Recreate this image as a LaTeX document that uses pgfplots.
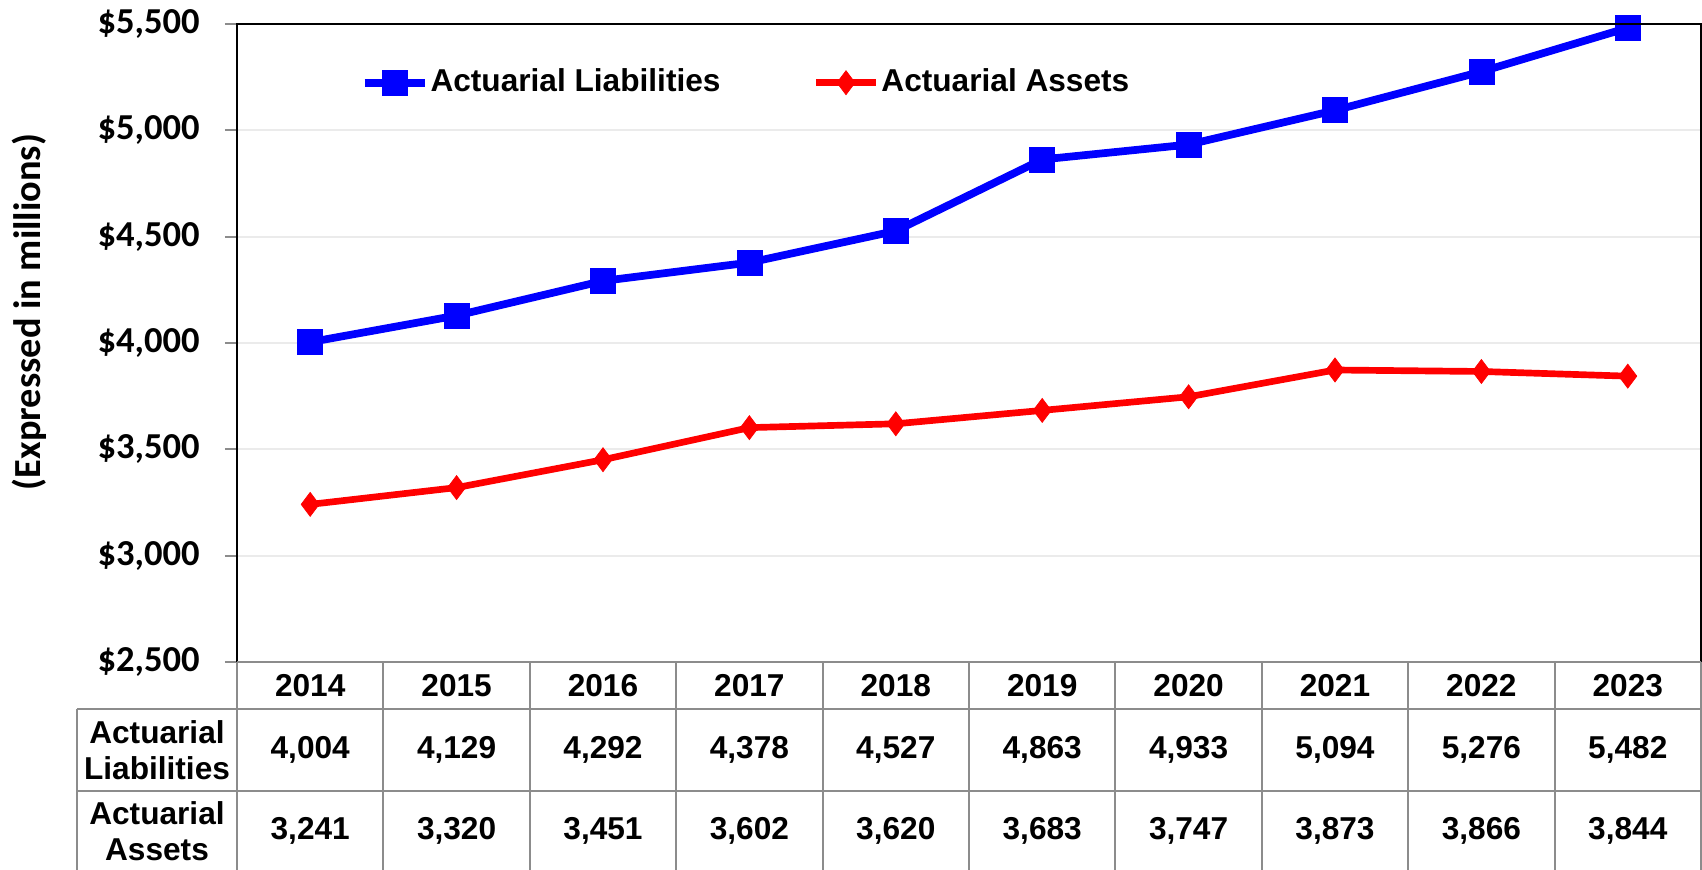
\documentclass[border=0pt]{standalone}
\usepackage{pgfplots}
\pgfplotsset{compat=1.18}
\usepackage{pgfplotstable}
\usepackage{fontspec}
\setmainfont{Liberation Sans}
\newfontfamily\calibri{Carlito}

\definecolor{tabline}{RGB}{140,140,140}
\definecolor{gridgray}{RGB}{235,235,235}

\newcommand\tabfont{\fontsize{9}{10.4}\selectfont\bfseries}

\pgfkeys{/pgf/number format/.cd, fixed, precision=0, 1000 sep={,}, assume math mode=true}

\pgfplotstableread{
x year liab assets
0 2014 4004 3241
1 2015 4129 3320
2 2016 4292 3451
3 2017 4378 3602
4 2018 4527 3620
5 2019 4863 3683
6 2020 4933 3747
7 2021 5094 3873
8 2022 5276 3866
9 2023 5482 3844
}\datatable

\begin{document}
\begin{tikzpicture}
\useasboundingbox (-23.7mm,-20.8mm) rectangle (146.5mm,66.2mm);
\begin{axis}[
    name=ax, at={(0,0)}, anchor=south west,
    scale only axis, width=146.4mm, height=63.8mm,
    xmin=-0.5, xmax=9.5, ymin=2500, ymax=5500,
    xtick=\empty,
    ytick={2500,3000,...,5500},
    scaled y ticks=false,
    yticklabel={\$\pgfmathprintnumber{\tick}},
    yticklabel style={font=\calibri\fontsize{10.4}{12}\selectfont\bfseries, xshift=-1.3mm},
    tick align=outside, major tick length=1.2mm,
    ytick style={draw=tabline, line width=0.6pt},
    ymajorgrids, major grid style={draw=gridgray, line width=0.5pt},
    axis line style={draw=none},
    clip=false,
    legend columns=2,
    legend style={draw=none, fill=none, inner sep=0pt, font=\tabfont,
        nodes={inner sep=0.6pt},
        at={(0.084,0.908)}, anchor=west,
        /tikz/every even column/.append style={column sep=9.0mm}},
]
\addplot[color=blue, line width=2.2pt, mark=square*, mark size=1.25mm,
    mark options={line width=0.2pt}] table[x=x, y=liab] {\datatable};
\addlegendentry{Actuarial Liabilities}
\addplot[color=red, line width=1.9pt, mark=diamond*, mark size=1.2mm,
    mark options={line width=0.2pt}] table[x=x, y=assets] {\datatable};
\addlegendentry{Actuarial Assets}
\end{axis}

% plot frame
\draw[black, line width=0.6pt] (0,0) -- (0,63.8mm) -- (146.4mm,63.8mm) -- (146.4mm,0);

% data table under the plot
\begin{scope}[tabline, line width=0.6pt]
\draw (0,0) -- (146.4mm,0);
\draw (-16mm,-4.7mm) -- (146.4mm,-4.7mm);
\draw (-16mm,-12.9mm) -- (146.4mm,-12.9mm);
\draw (-16mm,-4.7mm) -- (-16mm,-20.8mm);
\foreach \k in {0,...,10} \draw ({\k*14.64mm},0) -- ({\k*14.64mm},-20.8mm);
\end{scope}

\node[font=\tabfont, align=center] at (-8mm,-8.8mm) {Actuarial\\Liabilities};
\node[font=\tabfont, align=center] at (-8mm,-16.9mm) {Actuarial\\Assets};

\foreach \i in {0,...,9} {
  \pgfplotstablegetelem{\i}{year}\of\datatable
  \node[font=\tabfont] at ({(\i+0.5)*14.64mm},-2.35mm) {\pgfplotsretval};
  \pgfplotstablegetelem{\i}{liab}\of\datatable
  \node[font=\tabfont] at ({(\i+0.5)*14.64mm},-8.8mm) {\pgfmathprintnumber{\pgfplotsretval}};
  \pgfplotstablegetelem{\i}{assets}\of\datatable
  \node[font=\tabfont] at ({(\i+0.5)*14.64mm},-16.9mm) {\pgfmathprintnumber{\pgfplotsretval}};
}

\node[rotate=90, font=\calibri\fontsize{10.9}{13}\selectfont\bfseries] at (-20.8mm,35mm) {(Expressed in millions)};
\end{tikzpicture}
\end{document}
